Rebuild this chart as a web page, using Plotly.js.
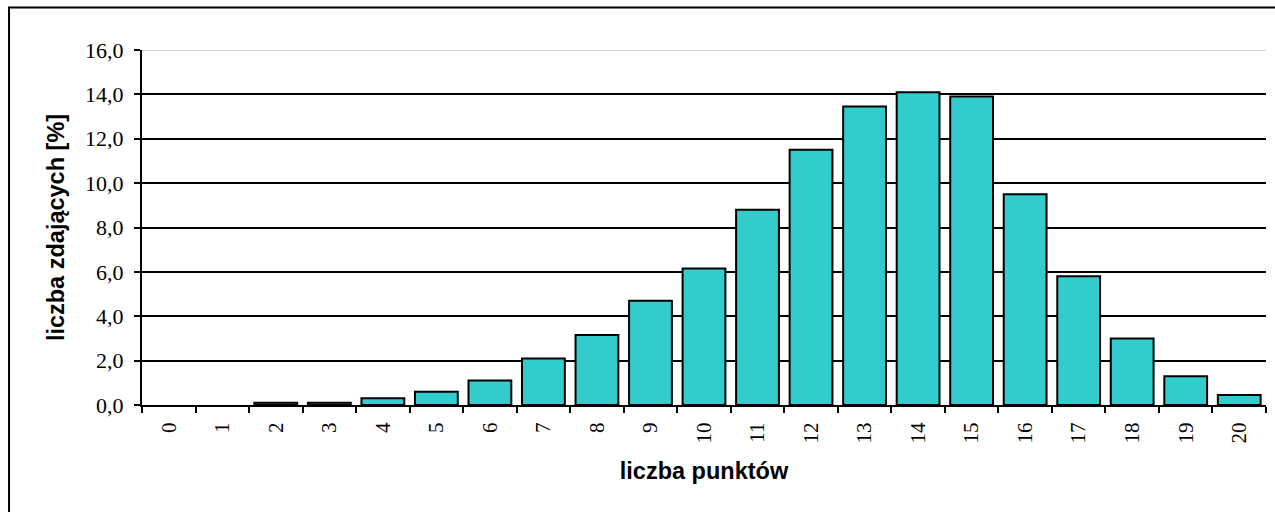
<!DOCTYPE html>
<html>
<head>
<meta charset="utf-8">
<script src="https://cdn.plot.ly/plotly-3.0.1.min.js"></script>
<style>
  html, body { margin: 0; padding: 0; background: #ffffff; }
  #chart { width: 1275px; height: 512px; }
</style>
</head>
<body>
<div id="chart"></div>
<script>
// Data
const categories = ["0","1","2","3","4","5","6","7","8","9","10","11","12","13","14","15","16","17","18","19","20"];
const percentValues = [0.0, 0.0, 0.1, 0.1, 0.3, 0.6, 1.1, 2.1, 3.15, 4.7, 6.15, 8.8, 11.5, 13.45, 14.1, 13.9, 9.5, 5.8, 3.0, 1.3, 0.45];
const yTickValues = [0, 2, 4, 6, 8, 10, 12, 14, 16];

const trace = {
  type: 'bar',
  x: categories,
  y: percentValues,
  marker: {
    color: '#33CCCC',
    line: { color: '#000000', width: percentValues.map(v => v > 0 ? 2 : 0) }
  },
  hoverinfo: 'x+y'
};

const layout = {
  width: 1275,
  height: 512,
  margin: { l: 142, r: 9, t: 50, b: 107 },
  paper_bgcolor: '#ffffff',
  plot_bgcolor: '#ffffff',
  bargap: 0.2,
  separators: ', ',
  showlegend: false,
  font: { family: 'Liberation Serif, Times New Roman, serif', color: '#000000' },
  xaxis: {
    type: 'category',
    tickson: 'boundaries',
    ticks: 'outside',
    ticklen: 6,
    tickwidth: 2,
    tickcolor: '#000000',
    tickangle: -90,
    ticklabelstandoff: 7,
    tickfont: { family: 'Liberation Serif, Times New Roman, serif', size: 21, color: '#000000' },
    showline: true,
    linecolor: '#000000',
    linewidth: 2,
    showgrid: false,
    zeroline: false,
    title: {
      text: 'liczba punktów',
      font: { family: 'Liberation Sans, Arial, sans-serif', size: 23.5, color: '#000000', weight: 'bold' },
      standoff: 20
    }
  },
  yaxis: {
    range: [0, 16],
    tickvals: yTickValues,
    tickformat: '.1f',
    ticks: 'outside',
    ticklen: 6,
    tickwidth: 2,
    tickcolor: '#000000',
    ticklabelstandoff: 6,
    tickfont: { family: 'Liberation Serif, Times New Roman, serif', size: 22, color: '#000000' },
    showline: true,
    linecolor: '#000000',
    linewidth: 2,
    showgrid: true,
    gridcolor: '#000000',
    gridwidth: 2,
    zeroline: false,
    title: {
      text: 'liczba zdających [%]',
      font: { family: 'Liberation Sans, Arial, sans-serif', size: 23.5, color: '#000000', weight: 'bold' },
      standoff: 14
    }
  },
  shapes: [
    { type: 'line', xref: 'paper', yref: 'y', x0: 0, x1: 1, y0: 16, y1: 16,
      line: { color: '#d0d0d0', width: 2 }, layer: 'above' },
    { type: 'rect', xref: 'paper', yref: 'paper', x0: -0.1183, x1: 1.2, y0: -0.6, y1: 1.12,
      line: { color: '#000000', width: 2 }, fillcolor: 'rgba(0,0,0,0)', layer: 'below' }
  ]
};

Plotly.newPlot('chart', [trace], layout, { displayModeBar: false, staticPlot: true });
</script>
</body>
</html>
